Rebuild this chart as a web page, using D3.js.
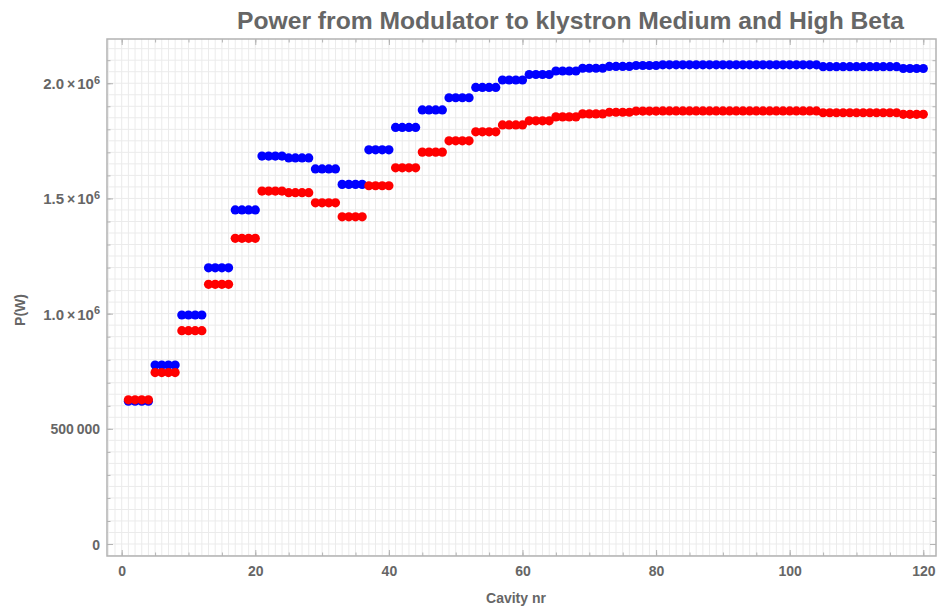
<!DOCTYPE html>
<html>
<head>
<meta charset="utf-8">
<script src="https://cdn.jsdelivr.net/npm/d3@7/dist/d3.min.js"></script>
<style>
  html, body { margin: 0; padding: 0; background: #fff; }
  svg { display: block; font-family: "Liberation Sans", Arial, sans-serif; }
</style>
</head>
<body>
<svg id="chart" width="941" height="610"></svg>
<script>
// Power delivered from the modulator to each klystron, cavity by cavity.
const titleText = "Power from Modulator to klystron Medium and High Beta";
const xLabel = "Cavity nr";
const yLabel = "P(W)";

// Cavity numbers 1..120
const cavities = d3.range(1, 121);

// Series drawn in blue (upper curve)
const powerBlue = [
  620000, 620000, 620000, 620000,
  777000, 777000, 777000, 777000,
  994000, 994000, 994000, 994000,
  1199000, 1199000, 1199000, 1199000,
  1450000, 1450000, 1450000, 1450000,
  1684000, 1684000, 1684000, 1684000,
  1676000, 1676000, 1676000, 1676000,
  1628000, 1628000, 1628000, 1628000,
  1561000, 1561000, 1561000, 1561000,
  1711000, 1711000, 1711000, 1711000,
  1808000, 1808000, 1808000, 1808000,
  1884000, 1884000, 1884000, 1884000,
  1937000, 1937000, 1937000, 1937000,
  1982000, 1982000, 1982000, 1982000,
  2014000, 2014000, 2014000, 2014000,
  2038000, 2038000, 2038000, 2038000,
  2053000, 2053000, 2053000, 2053000,
  2065000, 2065000, 2065000, 2065000,
  2073000, 2073000, 2073000, 2073000,
  2077000, 2077000, 2077000, 2077000,
  2080000, 2080000, 2080000, 2080000,
  2080000, 2080000, 2080000, 2080000,
  2080000, 2080000, 2080000, 2080000,
  2080000, 2080000, 2080000, 2080000,
  2080000, 2080000, 2080000, 2080000,
  2080000, 2080000, 2080000, 2080000,
  2072000, 2072000, 2072000, 2072000,
  2072000, 2072000, 2072000, 2072000,
  2072000, 2072000, 2072000, 2072000,
  2064000, 2064000, 2064000, 2064000
];

// Series drawn in red (lower curve)
const powerRed = [
  626000, 626000, 626000, 626000,
  744000, 744000, 744000, 744000,
  926000, 926000, 926000, 926000,
  1127000, 1127000, 1127000, 1127000,
  1327000, 1327000, 1327000, 1327000,
  1532000, 1532000, 1532000, 1532000,
  1525000, 1525000, 1525000, 1525000,
  1481000, 1481000, 1481000, 1481000,
  1420000, 1420000, 1420000, 1420000,
  1555000, 1555000, 1555000, 1555000,
  1633000, 1633000, 1633000, 1633000,
  1701000, 1701000, 1701000, 1701000,
  1750000, 1750000, 1750000, 1750000,
  1789000, 1789000, 1789000, 1789000,
  1819000, 1819000, 1819000, 1819000,
  1837000, 1837000, 1837000, 1837000,
  1854000, 1854000, 1854000, 1854000,
  1867000, 1867000, 1867000, 1867000,
  1874000, 1874000, 1874000, 1874000,
  1879000, 1879000, 1879000, 1879000,
  1880000, 1880000, 1880000, 1880000,
  1880000, 1880000, 1880000, 1880000,
  1880000, 1880000, 1880000, 1880000,
  1880000, 1880000, 1880000, 1880000,
  1880000, 1880000, 1880000, 1880000,
  1880000, 1880000, 1880000, 1880000,
  1872000, 1872000, 1872000, 1872000,
  1872000, 1872000, 1872000, 1872000,
  1872000, 1872000, 1872000, 1872000,
  1865000, 1865000, 1865000, 1865000
];

// Tick values
const xMajorTicks = [0, 20, 40, 60, 80, 100, 120];
const xMinorTicks = [0, 5, 10, 15, 20, 25, 30, 35, 40, 45, 50, 55, 60, 65, 70, 75, 80, 85, 90, 95, 100, 105, 110, 115, 120];
const yMajorTicks = [0, 500000, 1000000, 1500000, 2000000];
const yMinorTicks = [0, 100000, 200000, 300000, 400000, 500000, 600000, 700000, 800000, 900000, 1000000,
  1100000, 1200000, 1300000, 1400000, 1500000, 1600000, 1700000, 1800000, 1900000, 2000000, 2100000];
const yTickLabels = ["0", "500\u2009000", "1.0", "1.5", "2.0"];

// ---- layout ----
const frame = { left: 107, right: 936, top: 39, bottom: 556 };
const textColor = "#666666";
const frameColor = "#b3b3b3";
const gridColor = "#ebebeb";

const svg = d3.select("#chart");

const x = d3.scaleLinear().domain([-2.2, 121.9]).range([frame.left, frame.right]);
const y = d3.scaleLinear().domain([-52000, 2192000]).range([frame.bottom, frame.top]);

// fine grid
const grid = svg.append("g");
grid.selectAll("line.gx")
  .data(d3.range(-2, 122, 1))
  .join("line")
  .attr("x1", d => x(d)).attr("x2", d => x(d))
  .attr("y1", frame.top).attr("y2", frame.bottom)
  .attr("stroke", gridColor).attr("stroke-width", 1);
grid.selectAll("line.gy")
  .data(d3.range(-50000, 2200000, 50000))
  .join("line")
  .attr("x1", frame.left).attr("x2", frame.right)
  .attr("y1", d => y(d)).attr("y2", d => y(d))
  .attr("stroke", gridColor).attr("stroke-width", 1);

// points: blue first, red drawn over it
const pts = svg.append("g");
function drawSeries(values, color) {
  pts.append("g")
    .selectAll("circle")
    .data(values.map((v, i) => ({ c: cavities[i], v })))
    .join("circle")
    .attr("cx", d => x(d.c))
    .attr("cy", d => y(d.v))
    .attr("r", 4.6)
    .attr("fill", color);
}
drawSeries(powerBlue, "#0000ff");
drawSeries(powerRed, "#ff0000");

// frame
svg.append("rect")
  .attr("x", frame.left).attr("y", frame.top)
  .attr("width", frame.right - frame.left).attr("height", frame.bottom - frame.top)
  .attr("fill", "none").attr("stroke", frameColor).attr("stroke-width", 1.5);

function styleAxis(g) {
  g.select(".domain").remove();
  g.selectAll(".tick line").attr("stroke", frameColor).attr("stroke-width", 1);
  g.selectAll("text")
    .attr("fill", textColor)
    .attr("font-size", 14)
    .attr("font-weight", "bold");
}

// ticks pointing inward on all four sides
svg.append("g").attr("transform", `translate(0,${frame.bottom})`)
  .call(d3.axisBottom(x).tickValues(xMinorTicks).tickSize(-3.5).tickFormat(""))
  .call(styleAxis);
svg.append("g").attr("transform", `translate(0,${frame.bottom})`)
  .call(d3.axisBottom(x).tickValues(xMajorTicks).tickSize(-6).tickPadding(10).tickFormat(d3.format("d")))
  .call(styleAxis);
svg.append("g").attr("transform", `translate(0,${frame.top})`)
  .call(d3.axisTop(x).tickValues(xMinorTicks).tickSize(-3.5).tickFormat(""))
  .call(styleAxis);
svg.append("g").attr("transform", `translate(0,${frame.top})`)
  .call(d3.axisTop(x).tickValues(xMajorTicks).tickSize(-6).tickFormat(""))
  .call(styleAxis);

svg.append("g").attr("transform", `translate(${frame.left},0)`)
  .call(d3.axisLeft(y).tickValues(yMinorTicks).tickSize(-3.5).tickFormat(""))
  .call(styleAxis);
const yAxisG = svg.append("g").attr("transform", `translate(${frame.left},0)`)
  .call(d3.axisLeft(y).tickValues(yMajorTicks).tickSize(-6).tickPadding(7).tickFormat(""))
  .call(styleAxis);
svg.append("g").attr("transform", `translate(${frame.right},0)`)
  .call(d3.axisRight(y).tickValues(yMinorTicks).tickSize(-3.5).tickFormat(""))
  .call(styleAxis);
svg.append("g").attr("transform", `translate(${frame.right},0)`)
  .call(d3.axisRight(y).tickValues(yMajorTicks).tickSize(-6).tickFormat(""))
  .call(styleAxis);

// y tick labels with scientific notation
yAxisG.selectAll(".tick text").each(function (d, i) {
  const t = d3.select(this).text(null).attr("dy", "0.36em");
  const lab = yTickLabels[i];
  if (d >= 1000000) {
    t.attr("font-size", 15);
    t.append("tspan").text(lab);
    t.append("tspan").attr("font-size", 14).attr("dx", 3).text("\u00d7");
    t.append("tspan").attr("dx", 2).text("10");
    t.append("tspan").attr("font-size", 11).attr("dy", "-0.5em").text("6");
  } else {
    t.append("tspan").text(lab);
  }
});

// title and axis labels
svg.append("text")
  .attr("x", 237).attr("y", 29)
  .attr("text-anchor", "start")
  .attr("textLength", 667)
  .attr("lengthAdjust", "spacingAndGlyphs")
  .attr("fill", textColor)
  .attr("font-size", 24).attr("font-weight", "bold")
  .text(titleText);

svg.append("text")
  .attr("x", 516).attr("y", 603)
  .attr("text-anchor", "middle")
  .attr("fill", textColor)
  .attr("font-size", 14).attr("font-weight", "bold")
  .text(xLabel);

svg.append("text")
  .attr("transform", "translate(25,310) rotate(-90)")
  .attr("text-anchor", "middle")
  .attr("fill", textColor)
  .attr("font-size", 14).attr("font-weight", "bold")
  .text(yLabel);
</script>
</body>
</html>
